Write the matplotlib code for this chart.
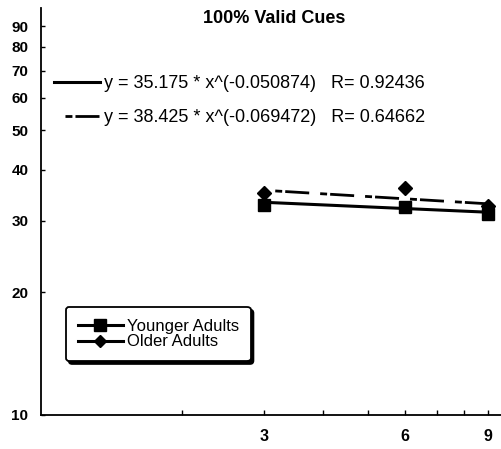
import numpy as np
import matplotlib
matplotlib.use("Agg")
from matplotlib import pyplot as plt
from matplotlib.lines import Line2D

plt.rcParams['font.family'] = ['Liberation Sans', 'DejaVu Sans']
plt.rcParams['lines.scale_dashes'] = False

# data
cue_delay = [3, 6, 9]
younger_rt = [32.8, 32.4, 31.1]
older_rt = [35.0, 36.0, 32.6]

# power fits as printed on the chart: y = a * x^b
younger_fit = (35.175, -0.050874, 0.92436)
older_fit = (38.425, -0.069472, 0.64662)

y_ticks = [10, 20, 30, 40, 50, 60, 70, 80, 90]
x_major = [3, 6, 9]
x_minor = [2, 4, 5, 7, 8]

title = '100% Valid Cues'
dash_pat = (24.5, (5.0, 2.2, 17.3, 7.9))

fig = plt.figure(figsize=(5.01, 4.49), dpi=100)
ax = fig.add_axes([41/501, 34/449, 468/501, 407.5/449])

x = np.asarray(cue_delay, dtype=float)
a, b, r = younger_fit
fit_y = ax.plot(x, a * x**b, color='k', lw=2.2, zorder=2,
                label='y = {} * x^({})   R= {}'.format(a, b, r))[0]
a, b, r = older_fit
fit_o = ax.plot(x, a * x**b, color='k', lw=2.0, ls=dash_pat, zorder=2,
                label='y = {} * x^({})   R= {}'.format(a, b, r))[0]

ax.plot(cue_delay, older_rt, ls='none', marker='D', ms=7.5, color='k', zorder=3)
ax.plot(cue_delay, younger_rt, ls='none', marker='s', ms=8.5, color='k', zorder=4)

ax.set_xscale('log')
ax.set_yscale('log')
ax.set_xlim(1, 10)
ax.set_ylim(10, 100)

ax.set_yticks(y_ticks)
ax.set_yticklabels([str(v) for v in y_ticks])
ax.yaxis.set_minor_locator(matplotlib.ticker.NullLocator())
ax.set_xticks(x_major)
ax.set_xticklabels([str(v) for v in x_major])
ax.set_xticks(x_minor, minor=True)
ax.xaxis.set_minor_formatter(matplotlib.ticker.NullFormatter())

ax.tick_params(axis='y', which='both', direction='in', length=3, width=1,
               pad=9, labelsize=11)
ax.tick_params(axis='x', which='both', direction='in', length=3.5, width=1,
               pad=10, labelsize=11.5)
for lab in ax.get_xticklabels() + ax.get_yticklabels():
    lab.set_fontweight('bold')

for s in ['top', 'right']:
    ax.spines[s].set_visible(False)
for s in ['left', 'bottom']:
    ax.spines[s].set_linewidth(1.3)

# fit equations legend
leg1 = ax.legend(handles=[fit_y, fit_o], loc='upper left',
                 bbox_to_anchor=(13/468, (415-75)/407.5), frameon=False,
                 borderpad=0, borderaxespad=0, fontsize=13,
                 handlelength=2.55, handletextpad=0.2, labelspacing=0.95)
ax.add_artist(leg1)

# series legend
h_young = Line2D([], [], color='k', lw=2.2, marker='s', ms=8.5)
h_old = Line2D([], [], color='k', lw=2.2, marker='D', ms=6.5)
leg2 = ax.legend(handles=[h_young, h_old], labels=['Younger Adults', 'Older Adults'],
                 loc='upper left', bbox_to_anchor=(25/468, (415-307)/407.5),
                 borderaxespad=0, fontsize=12, handlelength=2.7,
                 handletextpad=0.25, labelspacing=0.05, borderpad=0.7,
                 fancybox=True, framealpha=1, edgecolor='k',
                 shadow={'color': 'k', 'alpha': 1})
leg2.get_frame().set_linewidth(1.3)

fig.text(274/501, 1 - 18.5/449, title, ha='center', va='center',
         fontsize=13, fontweight='bold')

fig.savefig('out.png', dpi=100)
